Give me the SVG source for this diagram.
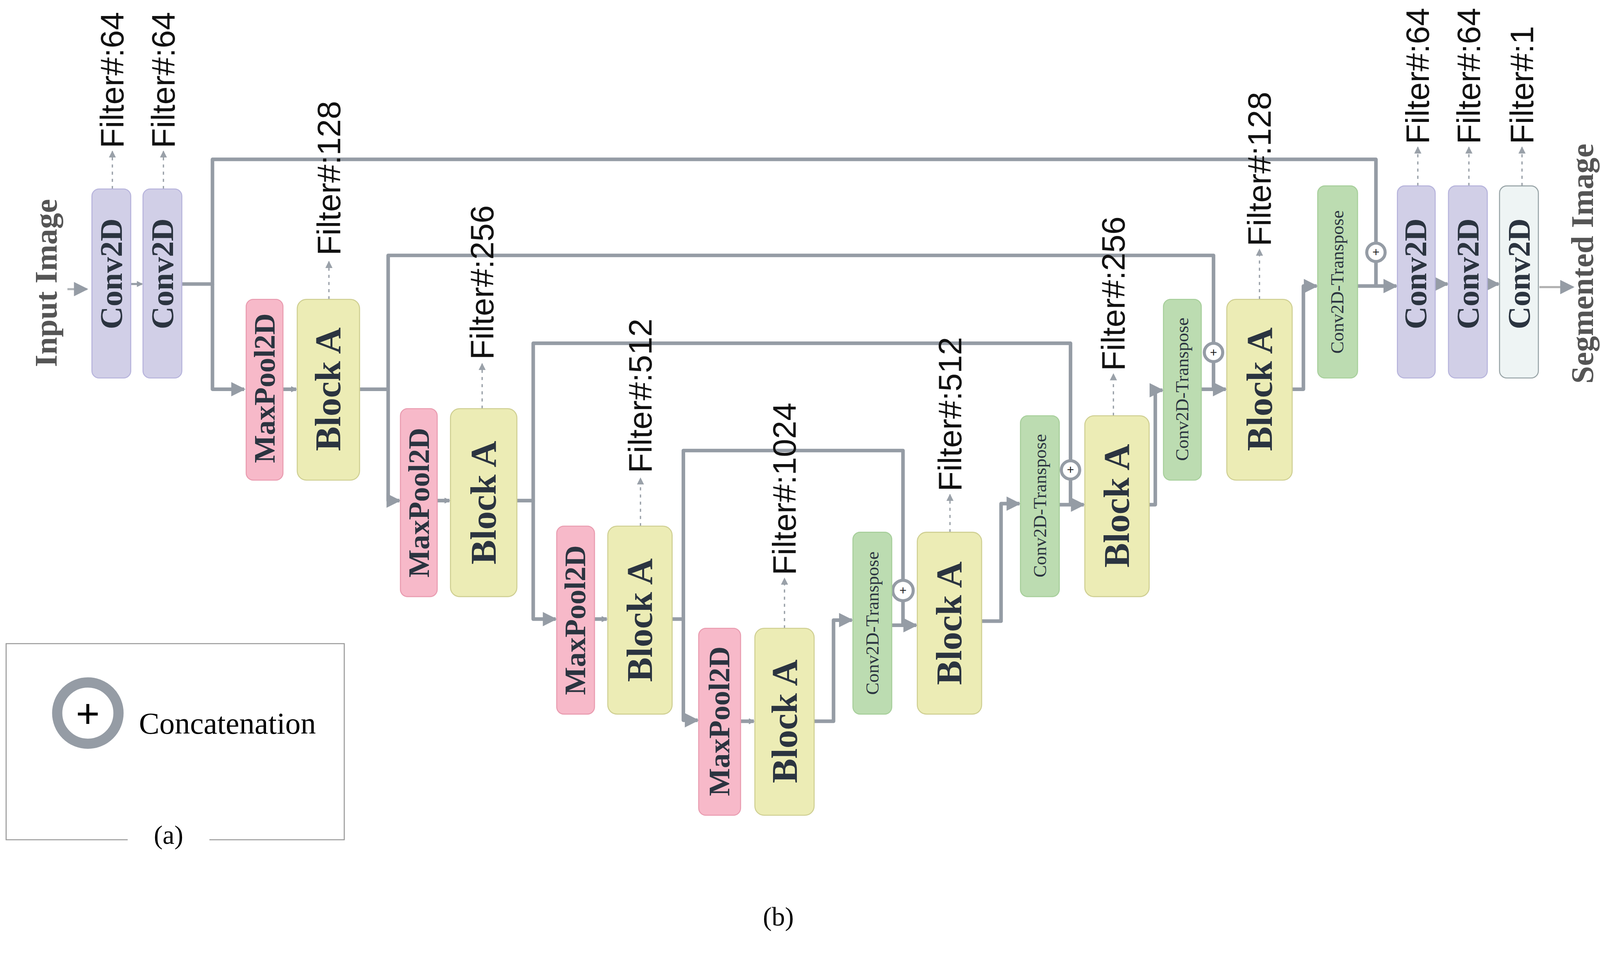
<svg xmlns="http://www.w3.org/2000/svg" width="4250" height="2488" viewBox="0 0 4250 2488">
<style>
.c{fill:#d1cfe7;stroke:#b7b4dc;stroke-width:1}
.cw{fill:#eef4f4;stroke:#97a3a6;stroke-width:1}
.m{fill:#f7b9c9;stroke:#e99cb0;stroke-width:1}
.b{fill:#ececb5;stroke:#cfcf92;stroke-width:1}
.t{fill:#bcdcb1;stroke:#a7cf9b;stroke-width:1}
.lbl{font-family:"Liberation Serif",serif;font-weight:bold;fill:#2b3440;text-anchor:middle;dominant-baseline:central}
.cv{font-size:31px}
.mp{font-size:29px}
.bk{font-size:36px}
.tr{font-size:18px;font-weight:normal}
.f{font-family:"Liberation Sans",sans-serif;font-size:32px;fill:#111}
.ln{fill:none;stroke:#959ca5;stroke-width:3.5;stroke-linejoin:round}
.dt{fill:none;stroke:#9aa1a9;stroke-width:1.3;stroke-dasharray:3 4}
.cc{fill:#fff;stroke:#959ca5;stroke-width:3}
.pl{font-family:"Liberation Sans",sans-serif;font-size:12px;fill:#222;text-anchor:middle;dominant-baseline:central}
</style>
<defs>
<marker id="a" markerWidth="6" markerHeight="6" refX="5" refY="3" orient="auto" markerUnits="userSpaceOnUse" viewBox="0 0 6 6"><path d="M0,0L6,3L0,6z" fill="#959ca5"/></marker>
<marker id="A" viewBox="0 0 10 10" refX="9" refY="5" markerWidth="16" markerHeight="14" orient="auto" markerUnits="userSpaceOnUse"><path d="M0,0L10,5L0,10z" fill="#959ca5"/></marker>
<marker id="s" viewBox="0 0 10 10" refX="9" refY="5" markerWidth="7" markerHeight="7" orient="auto" markerUnits="userSpaceOnUse"><path d="M0,0L10,5L0,10z" fill="#9aa1a9"/></marker>
</defs>
<rect width="4250" height="2488" fill="#fff"/>
<g transform="scale(2.615)">
<g id="connectors">
<path class="ln" d="M66,283H85" marker-end="url(#A)" style="stroke:#b0b4b8;stroke-width:2"/>
<path class="ln" d="M128,278H139" marker-end="url(#a)" style="stroke-width:2"/>
<path class="ln" d="M178,278H208V156H1347V238"/>
<path class="ln" d="M208,278V381H239" marker-end="url(#A)"/>
<path class="ln" d="M277,381H290" marker-end="url(#a)"/>
<path class="ln" d="M352,381H380V250H1188V336"/>
<path class="ln" d="M380,381V490H391" marker-end="url(#A)"/>
<path class="ln" d="M428,490H440" marker-end="url(#a)"/>
<path class="ln" d="M506,490H522V336H1048V451"/>
<path class="ln" d="M522,490V606H544" marker-end="url(#A)"/>
<path class="ln" d="M582,606H594" marker-end="url(#a)"/>
<path class="ln" d="M658,606H669V441H884V569"/>
<path class="ln" d="M669,606V705H683" marker-end="url(#A)"/>
<path class="ln" d="M725,706H738" marker-end="url(#a)"/>
<path class="ln" d="M797,706H816V607H834" marker-end="url(#A)"/>
<path class="ln" d="M873,612H897" marker-end="url(#A)"/>
<path class="ln" d="M884,588V612"/>
<path class="ln" d="M961,608H980V493H998" marker-end="url(#A)"/>
<path class="ln" d="M1037,494H1061" marker-end="url(#A)"/>
<path class="ln" d="M1048,469V494"/>
<path class="ln" d="M1125,494H1131V382H1138" marker-end="url(#A)"/>
<path class="ln" d="M1176,381H1200" marker-end="url(#A)"/>
<path class="ln" d="M1188,354V381"/>
<path class="ln" d="M1265,381H1276V280H1289" marker-end="url(#A)"/>
<path class="ln" d="M1329,280H1367" marker-end="url(#A)"/>
<path class="ln" d="M1347,256V280"/>
<path class="ln" d="M1405,278H1417" marker-end="url(#A)"/>
<path class="ln" d="M1456,278H1467" marker-end="url(#A)"/>
<path class="ln" d="M1507,281H1540" marker-end="url(#A)" style="stroke:#b0b0b0;stroke-width:2"/>
<g class="dt" marker-end="url(#s)">
<path d="M110,185V148"/><path d="M160,185V148"/><path d="M322,293V256"/><path d="M472,400V356"/><path d="M627,515V468"/><path d="M768,615V566"/><path d="M930,521V484"/><path d="M1090,407V366"/><path d="M1233,293V244"/><path d="M1388,182V144"/><path d="M1438,182V144"/><path d="M1490,182V144"/>
</g>
</g>
<g id="concats">
<circle class="cc" cx="1347" cy="247" r="9"/><text class="pl" x="1347" y="247">+</text>
<circle class="cc" cx="1188" cy="345" r="9"/><text class="pl" x="1188" y="345">+</text>
<circle class="cc" cx="1048" cy="460" r="9"/><text class="pl" x="1048" y="460">+</text>
<circle class="cc" cx="884" cy="578" r="10"/><text class="pl" x="884" y="578">+</text>
</g>
<g id="input"><text class="lbl" transform="translate(45,277) rotate(-90)" style="font-size:31px;fill:#555">Input Image</text></g>
<g id="conv1"><rect class="c" x="90" y="185" width="38" height="185" rx="7"/><text class="lbl cv" transform="translate(109,268) rotate(-90)">Conv2D</text></g>
<g id="conv2"><rect class="c" x="140" y="185" width="38" height="185" rx="7"/><text class="lbl cv" transform="translate(159,268) rotate(-90)">Conv2D</text></g>
<g id="mp1"><rect class="m" x="241" y="293" width="36" height="177" rx="7"/><text class="lbl mp" transform="translate(259,380) rotate(-90)">MaxPool2D</text></g>
<g id="ba1"><rect class="b" x="291" y="293" width="61" height="177" rx="9"/><text class="lbl bk" transform="translate(321,381) rotate(-90)">Block A</text></g>
<g id="mp2"><rect class="m" x="392" y="400" width="36" height="184" rx="7"/><text class="lbl mp" transform="translate(410,492) rotate(-90)">MaxPool2D</text></g>
<g id="ba2"><rect class="b" x="441" y="400" width="65" height="184" rx="9"/><text class="lbl bk" transform="translate(473,492) rotate(-90)">Block A</text></g>
<g id="mp3"><rect class="m" x="545" y="515" width="37" height="184" rx="7"/><text class="lbl mp" transform="translate(563,607) rotate(-90)">MaxPool2D</text></g>
<g id="ba3"><rect class="b" x="595" y="515" width="63" height="184" rx="9"/><text class="lbl bk" transform="translate(626,607) rotate(-90)">Block A</text></g>
<g id="mp4"><rect class="m" x="684" y="615" width="41" height="183" rx="7"/><text class="lbl mp" transform="translate(704,706) rotate(-90)">MaxPool2D</text></g>
<g id="ba4"><rect class="b" x="739" y="615" width="58" height="183" rx="9"/><text class="lbl bk" transform="translate(768,706) rotate(-90)">Block A</text></g>
<g id="ct1"><rect class="t" x="835" y="521" width="38" height="178" rx="7"/><text class="lbl tr" transform="translate(854,610) rotate(-90)">Conv2D-Transpose</text></g>
<g id="ba5"><rect class="b" x="898" y="521" width="63" height="178" rx="9"/><text class="lbl bk" transform="translate(929,610) rotate(-90)">Block A</text></g>
<g id="ct2"><rect class="t" x="999" y="407" width="38" height="177" rx="7"/><text class="lbl tr" transform="translate(1018,495) rotate(-90)">Conv2D-Transpose</text></g>
<g id="ba6"><rect class="b" x="1062" y="407" width="63" height="177" rx="9"/><text class="lbl bk" transform="translate(1093,495) rotate(-90)">Block A</text></g>
<g id="ct3"><rect class="t" x="1139" y="293" width="37" height="177" rx="7"/><text class="lbl tr" transform="translate(1157,381) rotate(-90)">Conv2D-Transpose</text></g>
<g id="ba7"><rect class="b" x="1201" y="293" width="64" height="177" rx="9"/><text class="lbl bk" transform="translate(1233,381) rotate(-90)">Block A</text></g>
<g id="ct4"><rect class="t" x="1290" y="182" width="39" height="188" rx="7"/><text class="lbl tr" transform="translate(1309,276) rotate(-90)">Conv2D-Transpose</text></g>
<g id="conv3"><rect class="c" x="1368" y="182" width="37" height="188" rx="7"/><text class="lbl cv" transform="translate(1386,268) rotate(-90)">Conv2D</text></g>
<g id="conv4"><rect class="c" x="1418" y="182" width="38" height="188" rx="7"/><text class="lbl cv" transform="translate(1437,268) rotate(-90)">Conv2D</text></g>
<g id="conv5"><rect class="cw" x="1468" y="182" width="38" height="188" rx="7"/><text class="lbl cv" transform="translate(1487,268) rotate(-90)">Conv2D</text></g>
<g id="output"><text class="lbl" transform="translate(1549,258) rotate(-90)" style="font-size:31px;fill:#555">Segmented Image</text></g>
<g id="filters">
<text class="f" transform="translate(121,145) rotate(-90)">Filter#:64</text>
<text class="f" transform="translate(171,145) rotate(-90)">Filter#:64</text>
<text class="f" transform="translate(333,250) rotate(-90)">Filter#:128</text>
<text class="f" transform="translate(483,352) rotate(-90)">Filter#:256</text>
<text class="f" transform="translate(638,463) rotate(-90)">Filter#:512</text>
<text class="f" transform="translate(779,563) rotate(-90)">Filter#:1024</text>
<text class="f" transform="translate(941,481) rotate(-90)">Filter#:512</text>
<text class="f" transform="translate(1101,363) rotate(-90)">Filter#:256</text>
<text class="f" transform="translate(1244,241) rotate(-90)">Filter#:128</text>
<text class="f" transform="translate(1399,141) rotate(-90)">Filter#:64</text>
<text class="f" transform="translate(1449,141) rotate(-90)">Filter#:64</text>
<text class="f" transform="translate(1501,141) rotate(-90)">Filter#:1</text>
</g>
<g id="legend">
<path d="M125,822H6V630H337V822H205" fill="none" stroke="#999" stroke-width="1"/>
<circle cx="86" cy="698" r="30" fill="#fff" stroke="#959ca5" stroke-width="10"/>
<text x="86" y="698" style="font-family:'Liberation Sans',sans-serif;font-size:40px;fill:#000;text-anchor:middle;dominant-baseline:central">+</text>
<text x="136" y="718" style="font-family:'Liberation Serif',serif;font-size:30px;fill:#000">Concatenation</text>
<text x="165" y="826" style="font-family:'Liberation Serif',serif;font-size:26px;fill:#000;text-anchor:middle">(a)</text>
</g>
<text x="762" y="906" style="font-family:'Liberation Serif',serif;font-size:26px;fill:#000;text-anchor:middle">(b)</text>
</g>
</svg>
